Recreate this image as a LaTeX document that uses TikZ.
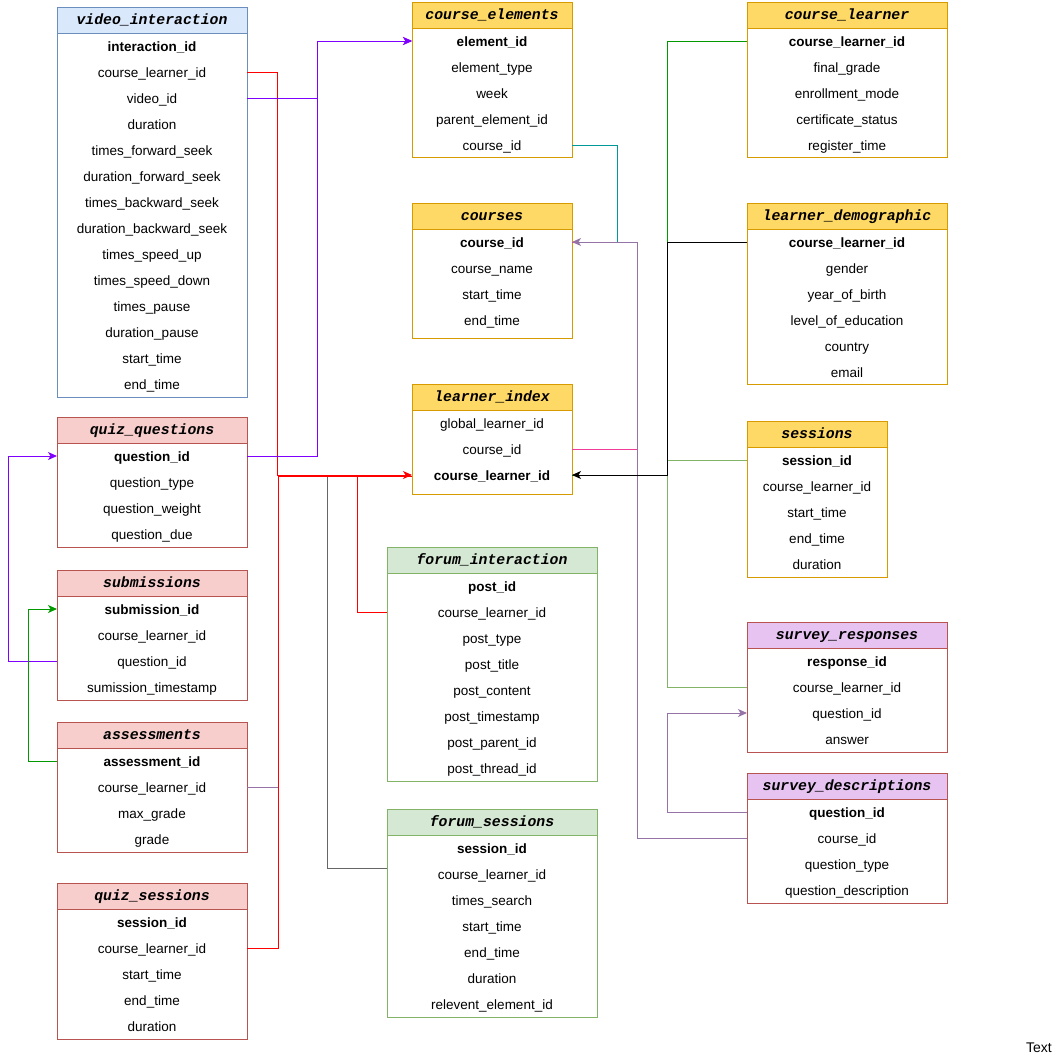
\documentclass[tikz,border=0pt]{standalone}
\usepackage{fontspec}
\setmainfont{Liberation Sans}
\newfontfamily\hdrfont{Liberation Mono}
\usetikzlibrary{arrows.meta}
\definecolor{blueF}{HTML}{DAE8FC}\definecolor{blueL}{HTML}{6C8EBF}
\definecolor{yelF}{HTML}{FFD966}\definecolor{yelL}{HTML}{D79B00}
\definecolor{redF}{HTML}{F8CECC}\definecolor{redL}{HTML}{B85450}
\definecolor{grnF}{HTML}{D5E8D4}\definecolor{grnL}{HTML}{82B366}
\definecolor{purF}{HTML}{E6C3F0}\definecolor{purL}{HTML}{B85450}
\definecolor{lnRed}{HTML}{FF0000}
\definecolor{lnViolet}{HTML}{7F00FF}
\definecolor{lnTeal}{HTML}{009999}
\definecolor{lnPurple}{HTML}{9673A6}
\definecolor{lnPink}{HTML}{F03C96}
\definecolor{lnGreen}{HTML}{009900}
\definecolor{lnLGreen}{HTML}{82B366}
\definecolor{lnGrey}{HTML}{666666}
\tikzset{
 tbox/.style={draw, line width=1pt, anchor=north west, inner sep=0pt, outer sep=0pt},
 thead/.style={draw, line width=1pt, anchor=north west, inner sep=0pt, outer sep=0pt, minimum height=26pt, text height=10pt, text depth=2pt, font=\hdrfont\bfseries\itshape\fontsize{14.8}{16}\selectfont},
 trow/.style={inner sep=0pt, outer sep=0pt, minimum height=26pt, text height=12pt, text depth=2pt, font=\fontsize{13.5}{15}\selectfont},
 conn/.style={line width=1pt},
 tip/.style={-{Stealth[length=9pt,width=8pt,inset=2.5pt]}},
}
\newcommand\dbtable[8]{%
  \node[tbox, draw=#6L, minimum width=#4pt, minimum height=#5pt] (#1) at (#2,#3) {};
  \node[thead, fill=#6F, draw=#6L, minimum width=#4pt] (#1-h) at (#2,#3) {#7};
  \pgfmathsetmacro\tcx{#2+#4/2}
  \foreach \r [count=\i] in {#8} {
    \pgfmathsetmacro\tcy{#3+13+26*\i}
    \node[trow, minimum width=#4pt] (#1-\i) at (\tcx,\tcy) {\r};
  }
}
\begin{document}
\begin{tikzpicture}[x=1pt,y=-1pt]
\useasboundingbox (0,0) rectangle (1064,1060);
\dbtable{vi}{57}{7}{190}{390}{blue}{video\_interaction}{\textbf{interaction\_id},course\_learner\_id,video\_id,duration,times\_forward\_seek,duration\_forward\_seek,times\_backward\_seek,duration\_backward\_seek,times\_speed\_up,times\_speed\_down,times\_pause,duration\_pause,start\_time,end\_time}
\dbtable{ce}{412}{2}{160}{155}{yel}{course\_elements}{\textbf{element\_id},element\_type,week,parent\_element\_id,course\_id}
\dbtable{cl}{747}{2}{200}{155}{yel}{course\_learner}{\textbf{course\_learner\_id},final\_grade,enrollment\_mode,certificate\_status,register\_time}
\dbtable{co}{412}{203}{160}{135}{yel}{courses}{\textbf{course\_id},course\_name,start\_time,end\_time}
\dbtable{ld}{747}{203}{200}{181}{yel}{learner\_demographic}{\textbf{course\_learner\_id},gender,year\_of\_birth,level\_of\_education,country,email}
\dbtable{li}{412}{384}{160}{110}{yel}{learner\_index}{global\_learner\_id,course\_id,\textbf{course\_learner\_id}}
\dbtable{se}{747}{421}{140}{156}{yel}{sessions}{\textbf{session\_id},course\_learner\_id,start\_time,end\_time,duration}
\dbtable{qq}{57}{417}{190}{130}{red}{quiz\_questions}{\textbf{question\_id},question\_type,question\_weight,question\_due}
\dbtable{sb}{57}{570}{190}{130}{red}{submissions}{\textbf{submission\_id},course\_learner\_id,question\_id,sumission\_timestamp}
\dbtable{as}{57}{722}{190}{130}{red}{assessments}{\textbf{assessment\_id},course\_learner\_id,max\_grade,grade}
\dbtable{qs}{57}{883}{190}{156}{red}{quiz\_sessions}{\textbf{session\_id},course\_learner\_id,start\_time,end\_time,duration}
\dbtable{fi}{387}{547}{210}{234}{grn}{forum\_interaction}{\textbf{post\_id},course\_learner\_id,post\_type,post\_title,post\_content,post\_timestamp,post\_parent\_id,post\_thread\_id}
\dbtable{fs}{387}{809}{210}{208}{grn}{forum\_sessions}{\textbf{session\_id},course\_learner\_id,times\_search,start\_time,end\_time,duration,relevent\_element\_id}
\dbtable{sr}{747}{622}{200}{130}{pur}{survey\_responses}{\textbf{response\_id},course\_learner\_id,question\_id,answer}
\dbtable{sd}{747}{773}{200}{130}{pur}{survey\_descriptions}{\textbf{question\_id},course\_id,question\_type,question\_description}
% connectors into learner_index from left
\draw[conn, lnGrey] ([yshift=6pt]fs-2.west) -- ++(-60,0) |- ([yshift=-1pt]li-3.west);
\draw[conn, lnPurple] (as-2.east) -- ++(31,0) |- ([yshift=-1pt]li-3.west);
\draw[conn, lnRed] (qs-2.east) -- ++(31,0) |- ([yshift=-1pt]li-3.west);
\draw[conn, lnRed] (fi-2.west) -- ++(-30,0) |- ([yshift=-1pt]li-3.west);
\draw[conn, lnRed, tip] (vi-2.east) -- ++(30,0) |- (li-3.west);
% violet to course_elements
\draw[conn, lnViolet, tip] (qq-1.east) -- ++(70,0) |- (ce-1.west);
\draw[conn, lnViolet, tip] (vi-3.east) -- ++(70,0) |- (ce-1.west);
% to courses
\draw[conn, lnTeal] (ce-5.east) -- ++(45,0) |- (co-1.east);
\draw[conn, lnPink] (li-2.east) -- ++(65,0) |- (co-1.east);
\draw[conn, lnPurple, tip] (sd-2.west) -- ++(-110,0) |- (co-1.east);
% into learner_index from right
\draw[conn, lnLGreen] (sr-2.west) -- ++(-80,0) |- (li-3.east);
\draw[conn, lnLGreen] (se-1.west) -- ++(-80,0) |- (li-3.east);
\draw[conn, lnGreen] (cl-1.west) -- ++(-80,0) |- (li-3.east);
\draw[conn, black, tip] (ld-1.west) -- ++(-80,0) |- (li-3.east);
% survey
\draw[conn, lnPurple, tip] (sd-1.west) -- ++(-80,0) |- (sr-3.west);
% left side
\draw[conn, lnViolet, tip] (sb-3.west) -- ++(-49,0) |- (qq-1.west);
\draw[conn, lnGreen, tip] (as-1.west) -- ++(-29,0) |- (sb-1.west);
\node[font=\fontsize{14}{16}\selectfont] (txt) at (1039,1048) {Text};
\end{tikzpicture}
\end{document}
